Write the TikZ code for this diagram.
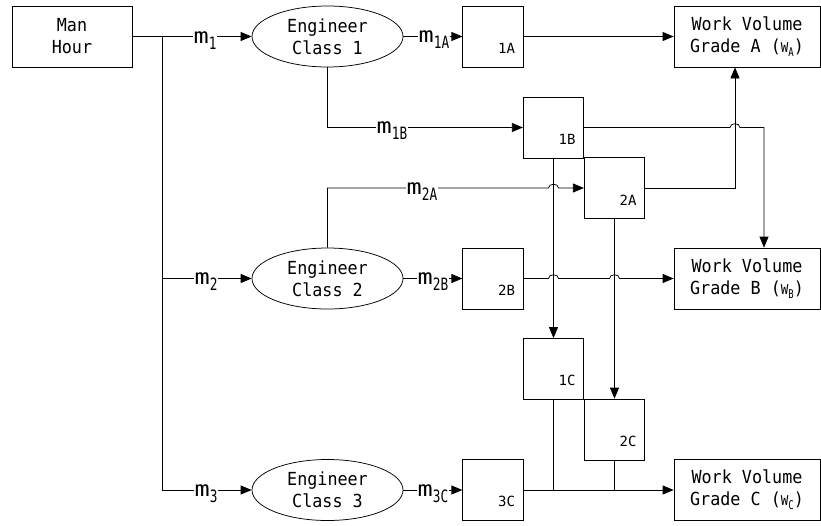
\documentclass[tikz,border=0pt]{standalone}
\usepackage{fontspec}
\usepackage{graphicx}
\usetikzlibrary{arrows.meta,shapes.geometric,calc}
\newfontfamily\dmono{DejaVu Sans Mono}
\newfontfamily\dmonon[FakeStretch=0.93]{DejaVu Sans Mono}
\newcommand\msub[1]{\scalebox{1.2}[1]{\fontsize{21}{21}\selectfont m}\raisebox{-6pt}{\scalebox{0.75}[1]{\fontsize{17}{17}\selectfont #1}}}
\newcommand\wsub[2]{{\fontsize{13.5}{13.5}\selectfont #1}\raisebox{-4pt}{\scalebox{0.8}[1]{\fontsize{12}{12}\selectfont #2}}}
\begin{document}
\begin{tikzpicture}[x=1pt,y=-1pt,line width=0.75pt,
  txt/.style={font=\dmonon\fontsize{18}{22}\selectfont},
  bigbox/.style={draw,rectangle,txt,align=center,inner sep=0pt,minimum width=120pt,minimum height=61pt},
  wbox/.style={draw,rectangle,txt,align=center,inner sep=0pt,minimum width=146pt,minimum height=61pt},
  eng/.style={draw,ellipse,txt,align=center,inner sep=0pt,minimum width=151pt,minimum height=61pt},
  sbox/.style={draw,rectangle,inner sep=0pt,minimum width=60.5pt,minimum height=61pt},
  blab/.style={font=\dmono\fontsize{14}{14}\selectfont,inner sep=0pt},
  mlab/.style={fill=white,inner sep=1pt,anchor=base,font=\dmono},
  arr/.style={-{Triangle[length=11pt,width=9pt]}}]
\useasboundingbox (0,0) rectangle (821,525);
% nodes
\node[bigbox] (mh) at (72,36.5) {Man\\Hour};
\node[eng] (e1) at (327.5,36.5) {Engineer\\Class 1};
\node[eng] (e2) at (327.5,278.5) {Engineer\\Class 2};
\node[eng] (e3) at (327.5,490) {Engineer\\Class 3};
\node[sbox] (b1A) at (493,36.5) {};
\node[sbox] (b1B) at (553.5,127.5) {};
\node[sbox] (b2A) at (614.5,188) {};
\node[sbox] (b2B) at (493,278.5) {};
\node[sbox] (b1C) at (553.5,369) {};
\node[sbox] (b2C) at (614.5,429.5) {};
\node[sbox] (b3C) at (493,490) {};
\node[wbox] (wA) at (747,36.5) {Work Volume\\Grade A (\wsub{W}{A})};
\node[wbox] (wB) at (747,278.5) {Work Volume\\Grade B (\wsub{W}{B})};
\node[wbox] (wC) at (747,490) {Work Volume\\Grade C (\wsub{W}{C})};
\foreach \b/\t in {b1A/1A,b1B/1B,b2A/2A,b2B/2B,b1C/1C,b2C/2C,b3C/3C}
  \node[blab] (t\b) at ([shift={(-17,-19)}]\b.south east) {\t};
% helper coordinates
\coordinate (j) at ([xshift=30pt]mh.east);
\coordinate (c1) at (b1B.south |- b2A.west);
\coordinate (c2) at (b1B.south |- b2B.east);
\coordinate (c3) at (b2A.south |- b2B.east);
\coordinate (t1) at ([xshift=17pt]wB.north);
\coordinate (t2) at ([xshift=-12pt]wA.south);
\coordinate (c4) at (t2 |- b1B.east);
% connectors
\draw[arr] (mh.east) -- (e1.west);
\draw[arr] (j) |- (e3.west);
\draw[arr] (j |- e2.west) -- (e2.west);
\draw[arr] (e1.east) -- (b1A.west);
\draw[arr] (b1A.east) -- (wA.west);
\draw[arr] (e1.south) |- (b1B.west);
\draw[arr] (e2.north) |- ([xshift=-5pt]c1) .. controls ([xshift=-5pt,yshift=5pt]c1) and ([xshift=5pt,yshift=5pt]c1) .. ([xshift=5pt]c1) -- (b2A.west);
\draw[arr] (e2.east) -- (b2B.west);
\draw[arr] (b2B.east) -- ([xshift=-5pt]c2) .. controls ([xshift=-5pt,yshift=5pt]c2) and ([xshift=5pt,yshift=5pt]c2) .. ([xshift=5pt]c2)
  -- ([xshift=-5pt]c3) .. controls ([xshift=-5pt,yshift=5pt]c3) and ([xshift=5pt,yshift=5pt]c3) .. ([xshift=5pt]c3) -- (wB.west);
\draw[arr] (b1B.east) -- ([xshift=-5pt]c4) .. controls ([xshift=-5pt,yshift=5pt]c4) and ([xshift=5pt,yshift=5pt]c4) .. ([xshift=5pt]c4) -- (t1 |- b1B.east) -- (t1);
\draw[arr] (b2A.east) -| (t2);
\draw[arr] (b1B.south) -- (b1C.north);
\draw[arr] (b2A.south) -- (b2C.north);
\draw[arr] (e3.east) -- (b3C.west);
\draw[arr] (b3C.east) -- (wC.west);
\draw (b1C.south) -- (b1C.south |- wC.west);
\draw (b2C.south) -- (b2C.south |- wC.west);
% labels
\node[mlab] (l1) at (205,43) {\msub{1}};
\node[mlab] (l1A) at (434,42.5) {\msub{1A}};
\node[mlab] (l1B) at (392,133.5) {\msub{1B}};
\node[mlab] (l2A) at (422,194) {\msub{2A}};
\node[mlab] (l2) at (206,284.5) {\msub{2}};
\node[mlab] (l2B) at (433,284.5) {\msub{2B}};
\node[mlab] (l3) at (206,496) {\msub{3}};
\node[mlab] (l3C) at (433,496) {\msub{3C}};
\end{tikzpicture}
\end{document}
